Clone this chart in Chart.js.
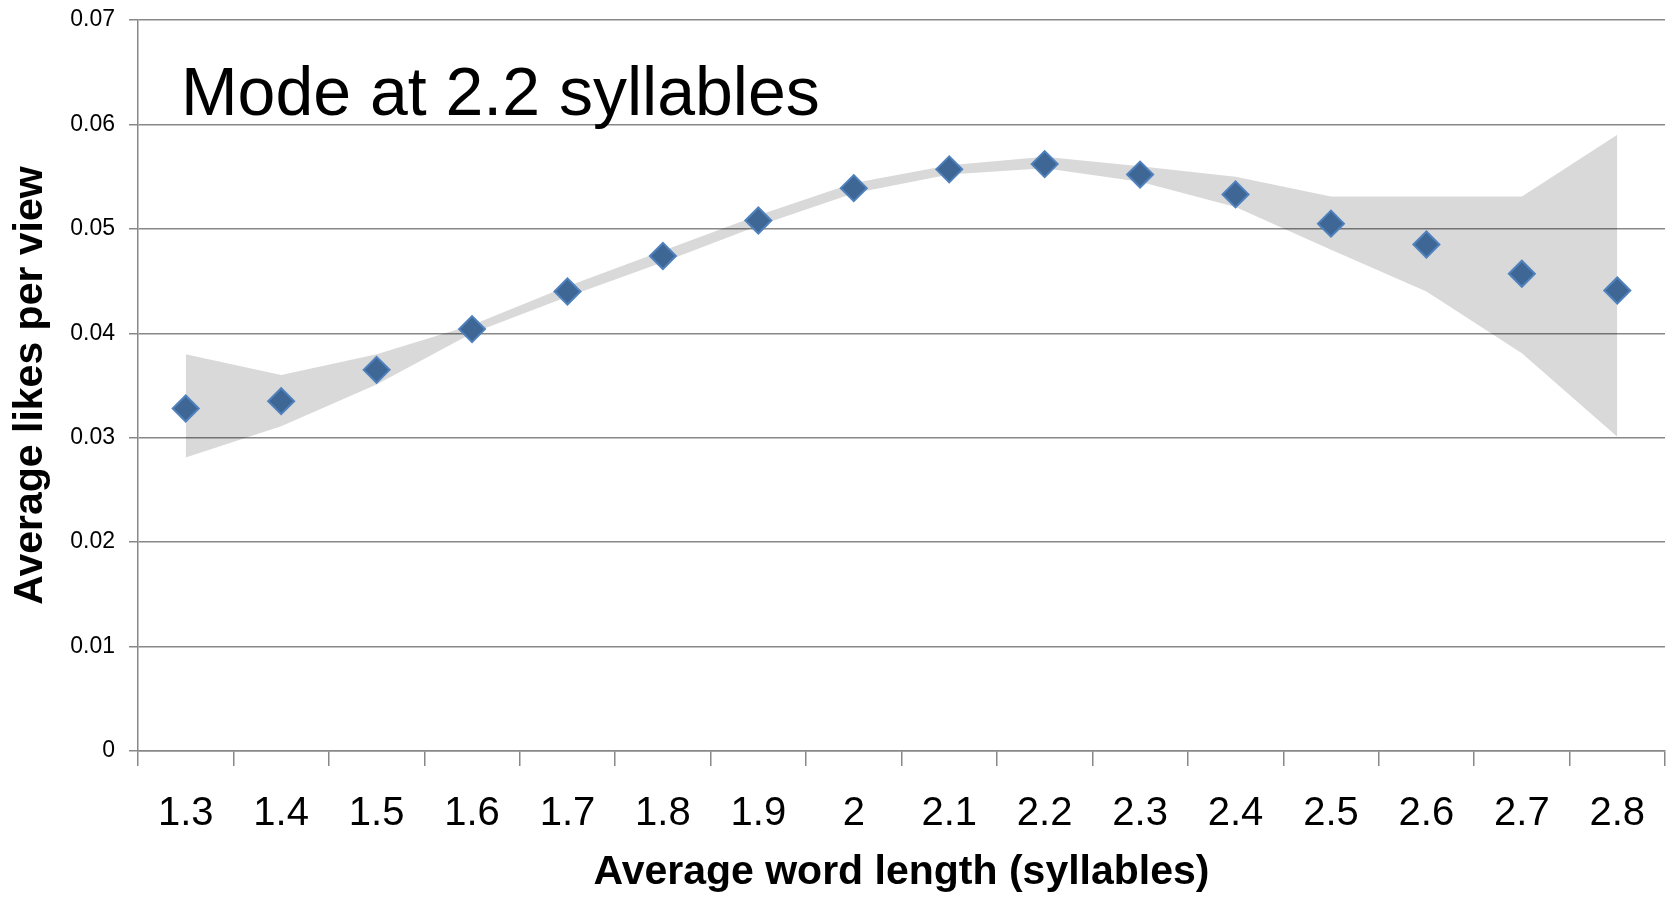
<!DOCTYPE html>
<html>
<head>
<meta charset="utf-8">
<script src="https://cdn.jsdelivr.net/npm/chart.js@4/dist/chart.umd.min.js"></script>
<style>
  html, body { margin: 0; padding: 0; background: #fff; }
  #wrap { width: 1673px; height: 897px; position: relative; }
</style>
</head>
<body>
<div id="wrap"><canvas id="likesChart"></canvas></div>
<script>
// word length categories (syllables)
const categories = ['1.3', '1.4', '1.5', '1.6', '1.7', '1.8', '1.9', '2', '2.1', '2.2', '2.3', '2.4', '2.5', '2.6', '2.7', '2.8'];

// average likes per view
const likesPerView = [0.0328, 0.0335, 0.0365, 0.0404, 0.0440, 0.0474, 0.0508, 0.0539, 0.0557, 0.0562, 0.0552, 0.0533, 0.0505, 0.0485, 0.0457, 0.0441];

// grey band, upper and lower edges
const bandUpper = [0.0380, 0.0360, 0.0380, 0.0408, 0.0445, 0.0479, 0.0513, 0.0544, 0.0561, 0.0569, 0.0560, 0.0550, 0.0531, 0.0531, 0.0531, 0.0590];
const bandLower = [0.0281, 0.0311, 0.0351, 0.0400, 0.0435, 0.0468, 0.0503, 0.0534, 0.0552, 0.0558, 0.0545, 0.0521, 0.0480, 0.0440, 0.0381, 0.0301];

const yTickLabels = ['0', '0.01', '0.02', '0.03', '0.04', '0.05', '0.06', '0.07'];

const annotationText = 'Mode at 2.2 syllables';

const FONT = "'Liberation Sans', Arial, sans-serif";
const GRID = '#888888';

// draws the big note inside the plot, anchored to the scales
const notePlugin = {
  id: 'note',
  afterDraw(chart) {
    const ctx = chart.ctx;
    const x = chart.scales.x.getPixelForValue(-0.05);
    const y = chart.scales.y.getPixelForValue(0.0609);
    ctx.save();
    ctx.font = '68px ' + FONT;
    ctx.fillStyle = '#000';
    ctx.textAlign = 'left';
    ctx.textBaseline = 'alphabetic';
    ctx.fillText(annotationText, x, y);
    ctx.restore();
  }
};

const ctx = document.getElementById('likesChart').getContext('2d');

const likesChart = new Chart(ctx, {
  type: 'line',
  data: {
    labels: categories,
    datasets: [
      {
        label: 'Average likes per view',
        data: likesPerView,
        showLine: false,
        pointStyle: 'rectRot',
        pointRadius: 13,
        pointHoverRadius: 13,
        pointBackgroundColor: '#3E6796',
        pointBorderColor: '#4F81BD',
        pointBorderWidth: 2,
        order: 0
      },
      {
        label: 'lower',
        data: bandLower,
        borderColor: 'rgba(0,0,0,0)',
        borderWidth: 0,
        pointRadius: 0,
        tension: 0,
        fill: false,
        order: 2
      },
      {
        label: 'upper',
        data: bandUpper,
        borderColor: 'rgba(0,0,0,0)',
        borderWidth: 0,
        pointRadius: 0,
        tension: 0,
        backgroundColor: 'rgba(0,0,0,0.15)',
        fill: '-1',
        order: 1
      }
    ]
  },
  options: {
    responsive: true,
    maintainAspectRatio: false,
    animation: false,
    layout: { autoPadding: false, padding: { top: 20, right: 8, left: 0, bottom: 0 } },
    plugins: {
      legend: { display: false },
      tooltip: { enabled: false }
    },
    scales: {
      x: {
        type: 'category',
        offset: true,
        grid: {
          offset: true,
          drawOnChartArea: false,
          drawTicks: true,
          tickLength: 15,
          color: GRID,
          lineWidth: 1.5
        },
        border: { color: GRID, width: 1.5 },
        ticks: {
          color: '#000',
          padding: 24,
          maxRotation: 0,
          autoSkip: false,
          font: { family: FONT, size: 40 }
        },
        title: {
          display: true,
          text: 'Average word length (syllables)',
          color: '#000',
          padding: { top: 0, bottom: 0 },
          font: { family: FONT, size: 41, weight: 'bold', lineHeight: 1.2 }
        },
        afterFit(scale) {
          scale.height = 146;
          scale.paddingLeft = 0;
          scale.paddingRight = 0;
        }
      },
      y: {
        min: 0,
        max: 0.07,
        grid: {
          color: GRID,
          lineWidth: 1.5,
          tickLength: 9
        },
        border: { color: GRID, width: 1.5 },
        ticks: {
          stepSize: 0.01,
          color: '#000',
          padding: 14,
          font: { family: FONT, size: 23 },
          callback: (value, index) => yTickLabels[index]
        },
        title: {
          display: true,
          text: 'Average likes per view',
          color: '#000',
          padding: { top: 6, bottom: 0 },
          font: { family: FONT, size: 41, weight: 'bold', lineHeight: 1.2 }
        },
        afterFit(scale) {
          scale.width = 138;
          scale.paddingTop = 0;
          scale.paddingBottom = 0;
        }
      }
    }
  },
  plugins: [notePlugin]
});
</script>
</body>
</html>
